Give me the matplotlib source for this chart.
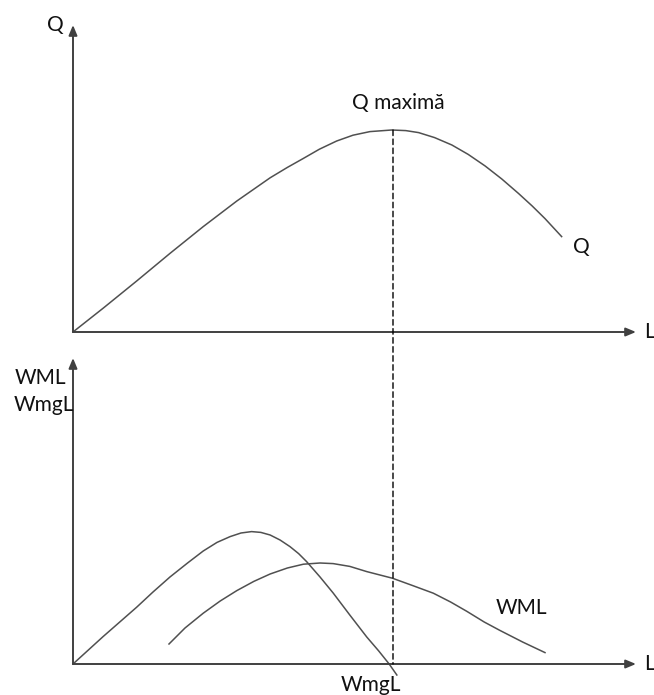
import matplotlib.pyplot as plt
from matplotlib.patches import ConnectionPatch

# Total product curve Q(L)
q_labor = [0.0, 0.95, 1.99, 3.03, 4.07, 5.12, 6.16, 6.7, 7.2, 7.7, 8.24, 8.75, 9.28,
           9.96, 10.4, 10.8, 11.3, 11.84, 12.35, 12.88, 13.4, 13.92, 14.35, 14.75, 15.27]
q_output = [0.0, 1.2, 2.55, 3.93, 5.27, 6.55, 7.71, 8.23, 8.68, 9.14, 9.55, 9.84, 10.02,
            10.1, 10.07, 9.97, 9.72, 9.35, 8.88, 8.3, 7.65, 6.93, 6.3, 5.67, 4.77]

# Marginal product of labour (WmgL)
mg_labor = [0.0, 0.94, 1.99, 2.5, 3.03, 3.58, 4.07, 4.5, 4.91, 5.25, 5.58, 5.87, 6.16,
            6.47, 6.78, 7.05, 7.3, 7.72, 8.13, 8.65, 9.18, 9.55, 9.88, 10.12]
mg_value = [0.0, 1.37, 2.84, 3.6, 4.35, 5.05, 5.65, 6.08, 6.37, 6.55, 6.62, 6.58, 6.45,
            6.2, 5.87, 5.52, 5.12, 4.35, 3.55, 2.45, 1.35, 0.66, 0.0, -0.55]

# Average product of labour (WML)
avg_labor = [3.0, 3.5, 4.07, 4.6, 5.12, 5.65, 6.16, 6.7, 7.2, 7.72, 8.13, 8.65, 9.18,
             9.98, 10.6, 11.26, 11.8, 12.3, 12.85, 13.34, 14.05, 14.75]
avg_value = [1.0, 1.8, 2.54, 3.15, 3.67, 4.13, 4.5, 4.8, 4.99, 5.05, 5.02, 4.88, 4.62,
             4.29, 3.93, 3.54, 3.1, 2.64, 2.1, 1.68, 1.1, 0.57]

L_MAX = 10.0
Q_MAX = 10.1

plt.rcParams['font.family'] = ['Lato', 'DejaVu Sans']

W, H = 654, 695
fig = plt.figure(figsize=(W / 100, H / 100), dpi=100)

x0, x1 = 73, 636
px_per_l = 32
ax_top = fig.add_axes([x0 / W, 1 - 332 / H, (x1 - x0) / W, (332 - 25) / H])
ax_bot = fig.add_axes([x0 / W, 1 - 664 / H, (x1 - x0) / W, (664 - 358) / H])

axis_col = '#404040'
line_col = '#505050'

for ax, ymax in ((ax_top, 15.35), (ax_bot, 15.3)):
    xmax = (x1 - x0) / px_per_l
    ax.set_xlim(0, xmax)
    ax.set_ylim(0, ymax)
    ax.axis('off')
    arrow = dict(arrowstyle='-|>,head_length=0.6,head_width=0.25', color=axis_col,
                 lw=1.4, shrinkA=0, shrinkB=0)
    ax.annotate('', xy=(xmax, 0), xytext=(0, 0), arrowprops=arrow, annotation_clip=False)
    ax.annotate('', xy=(0, ymax), xytext=(0, 0), arrowprops=arrow, annotation_clip=False)

ax_top.plot(q_labor, q_output, color=line_col, lw=1.1, clip_on=False, solid_joinstyle='round')
ax_bot.plot(mg_labor, mg_value, color=line_col, lw=1.1, clip_on=False, solid_joinstyle='round')
ax_bot.plot(avg_labor, avg_value, color=line_col, lw=1.1, clip_on=False, solid_joinstyle='round')

# dashed line from the peak of Q down to where WmgL crosses zero
con = ConnectionPatch(xyA=(L_MAX, Q_MAX), coordsA=ax_top.transData,
                      xyB=(L_MAX, 0), coordsB=ax_bot.transData,
                      color='black', lw=1.0, linestyle=(0, (4, 2.5)))
fig.add_artist(con)

fs = 15
txt = dict(fontsize=fs, color='#111111', ha='center', va='center', clip_on=False)
ax_top.text(-0.56, 15.35, 'Q', **txt)
ax_top.text(10.16, 11.45, 'Q maximă', **txt)
ax_top.text(15.9, 4.25, 'Q', **txt)
ax_top.text(17.85, 0, 'L', **{**txt, 'ha': 'left'})

ax_bot.text(-1.03, 14.3, 'WML', **txt)
ax_bot.text(-0.9, 12.95, 'WmgL', **txt)
ax_bot.text(14.0, 2.8, 'WML', **txt)
ax_bot.text(9.31, -1.05, 'WmgL', **txt)
ax_bot.text(17.85, 0, 'L', **{**txt, 'ha': 'left'})

fig.savefig('out.png', dpi=100)
